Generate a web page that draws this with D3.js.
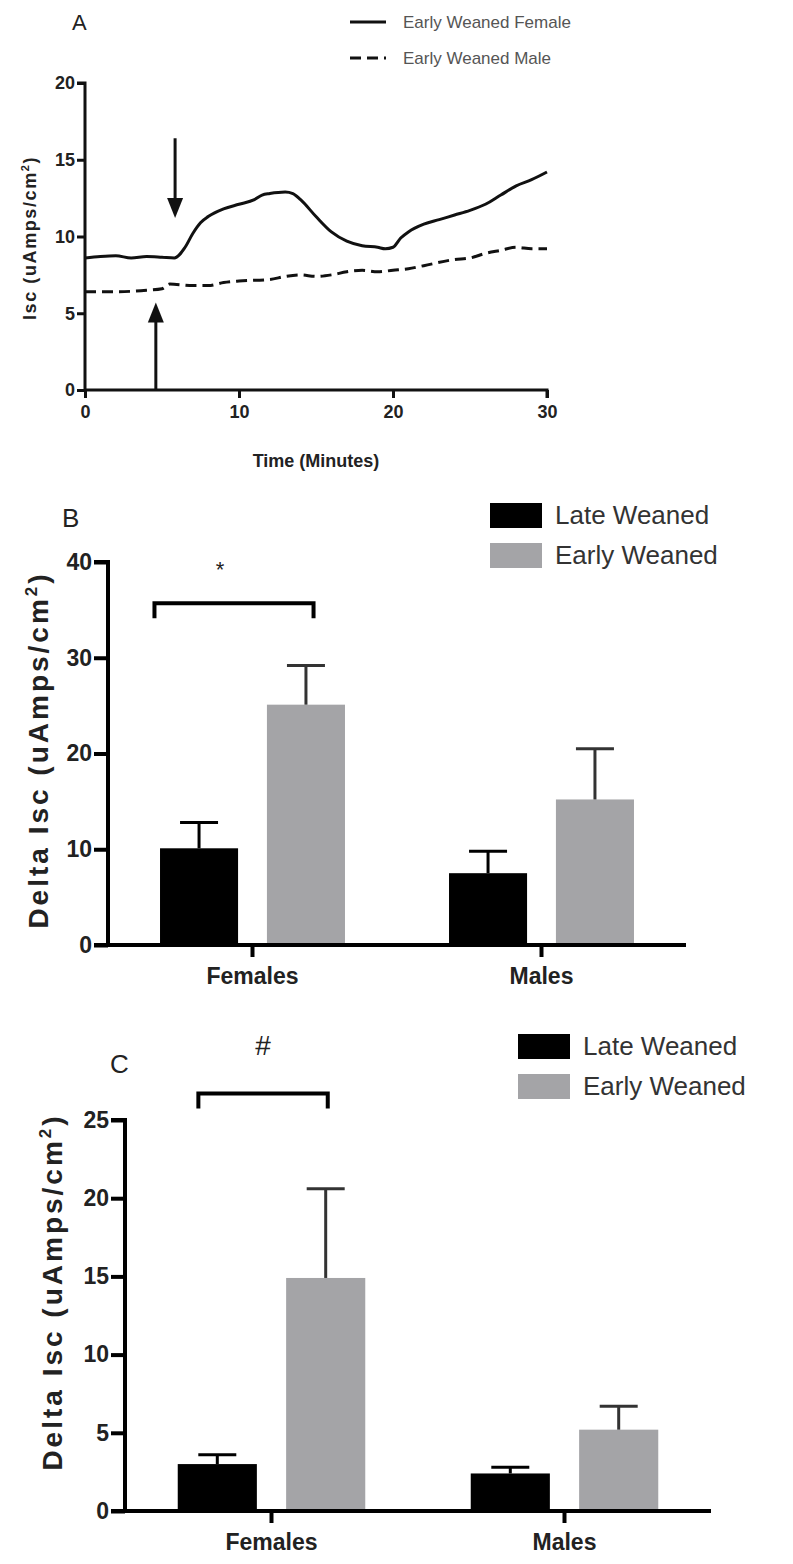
<!DOCTYPE html>
<meta charset="utf-8">
<style>
  body { margin: 0; background: #fff; }
  svg { font-family: "Liberation Sans", Arial, sans-serif; }
</style>
<svg width="793" height="1564"></svg>
<script src="https://cdn.jsdelivr.net/npm/d3@7"></script>
<script>

// ---- data ----
var timeA = [0, 1, 2, 3, 4, 5, 5.8, 6.5, 7, 7.5, 8, 9, 10, 11, 11.5, 12, 13, 13.5, 14, 15, 16, 17, 18, 19, 19.5, 20, 20.5, 21, 22, 23, 24, 25, 26, 27, 28, 29, 30];
var femaleA = [8.6, 8.7, 8.75, 8.6, 8.7, 8.65, 8.6, 9.3, 10.2, 10.9, 11.3, 11.8, 12.1, 12.4, 12.7, 12.8, 12.9, 12.8, 12.4, 11.3, 10.3, 9.7, 9.4, 9.3, 9.2, 9.3, 9.9, 10.3, 10.8, 11.1, 11.4, 11.7, 12.1, 12.7, 13.3, 13.7, 14.2];
var timeMale = [0, 2, 4, 5, 5.5, 7, 8, 9, 10, 12, 13, 14, 15, 16, 17, 18, 19, 20, 21, 22, 24, 25, 26, 27, 28, 29, 30];
var maleA = [6.4, 6.4, 6.5, 6.6, 6.9, 6.8, 6.8, 7.0, 7.1, 7.2, 7.4, 7.5, 7.4, 7.5, 7.7, 7.8, 7.7, 7.8, 7.9, 8.1, 8.5, 8.6, 8.9, 9.1, 9.3, 9.2, 9.2];
var arrowsA = [{t: 5.85, from: 16.4, to: 11.2}, {t: 4.6, from: 0, to: 5.7}];
var ticksAX = [0, 10, 20, 30];
var ticksAY = [0, 5, 10, 15, 20];

var groups = ["Females", "Males"];
var series = ["Late Weaned", "Early Weaned"];
var meanB = [[10.1, 25.1], [7.5, 15.2]];
var semB = [[2.7, 4.1], [2.3, 5.3]];
var ticksB = [0, 10, 20, 30, 40];
var meanC = [[3.0, 14.9], [2.4, 5.2]];
var semC = [[0.6, 5.7], [0.4, 1.5]];
var ticksC = [0, 5, 10, 15, 20, 25];

var colors = ["#000000", "#a4a4a7"];

var svg = d3.select("svg");

function yTitle(g, x, y, size, spacing) {
  var t = g.append("text")
      .attr("transform", "translate(" + x + "," + y + ") rotate(-90)")
      .attr("text-anchor", "middle")
      .attr("font-weight", "bold")
      .attr("font-size", size)
      .attr("letter-spacing", spacing)
      .attr("fill", "#222");
  return t;
}

// ================= Panel A =================
var xA = d3.scaleLinear().domain([0, 30]).range([85, 547]);
var yA = d3.scaleLinear().domain([0, 20]).range([390, 83]);

var axA = svg.append("g").attr("transform", "translate(0,390)")
    .call(d3.axisBottom(xA).tickValues(ticksAX).tickSize(8).tickPadding(6));
var ayA = svg.append("g").attr("transform", "translate(85,0)")
    .call(d3.axisLeft(yA).tickValues(ticksAY).tickSize(8).tickPadding(2));
[axA, ayA].forEach(function(a) {
  a.selectAll("path,line").attr("stroke", "#111").attr("stroke-width", 3);
  a.select(".domain").attr("d", a === axA ? "M85,0H547V8" : "M-8,83H0V390");
  a.selectAll("text").attr("font-size", 18).attr("font-weight", "bold").attr("fill", "#222")
    .attr("font-family", "Liberation Sans, Arial, sans-serif");
});
axA.selectAll("text").attr("dy", "0.8em");

var lineA = d3.line().curve(d3.curveMonotoneX);
svg.append("path")
    .attr("d", lineA(timeA.map(function(t, i) { return [xA(t), yA(femaleA[i])]; })))
    .attr("fill", "none").attr("stroke", "#111").attr("stroke-width", 3);
svg.append("path")
    .attr("d", lineA(timeMale.map(function(t, i) { return [xA(t), yA(maleA[i])]; })))
    .attr("fill", "none").attr("stroke", "#111").attr("stroke-width", 3)
    .attr("stroke-dasharray", "11,6");

arrowsA.forEach(function(a) {
  var x = xA(a.t), y0 = yA(a.from), y1 = yA(a.to);
  var dir = y1 > y0 ? 1 : -1;
  svg.append("line").attr("x1", x).attr("x2", x).attr("y1", y0).attr("y2", y1 - dir * 12)
      .attr("stroke", "#111").attr("stroke-width", 3);
  svg.append("path")
      .attr("d", "M" + (x - 8) + "," + (y1 - dir * 20) + "L" + (x + 8) + "," + (y1 - dir * 20) + "L" + x + "," + y1 + "Z")
      .attr("fill", "#111");
});

svg.append("text").attr("x", 72).attr("y", 30).attr("font-size", 22).attr("fill", "#222").text("A");
var tA = yTitle(svg, 36, 238, 18, 1.6);
tA.append("tspan").text("Isc (uAmps/cm");
tA.append("tspan").attr("font-size", 11).attr("dy", -7).text("2");
tA.append("tspan").attr("dy", 7).text(")");
svg.append("text").attr("x", 316).attr("y", 467).attr("text-anchor", "middle")
    .attr("font-size", 18).attr("font-weight", "bold").attr("fill", "#222").text("Time (Minutes)");

// legend A
[{y: 22, dash: null, label: "Early Weaned Female"}, {y: 58, dash: "11,6", label: "Early Weaned Male"}].forEach(function(d) {
  svg.append("line").attr("x1", 350).attr("x2", 386).attr("y1", d.y).attr("y2", d.y)
      .attr("stroke", "#111").attr("stroke-width", 3).attr("stroke-dasharray", d.dash);
  svg.append("text").attr("x", 403).attr("y", d.y + 6).attr("font-size", 17).attr("fill", "#555").text(d.label);
});

// ================= Bar panels =================
function barPanel(opt) {
  var x0 = d3.scaleBand().domain(groups).range([opt.left, opt.right]).paddingInner(0.36).paddingOuter(0.18);
  var x1 = d3.scaleBand().domain(series).range([0, x0.bandwidth()]).paddingInner(0.27);
  var y = d3.scaleLinear().domain([0, opt.max]).range([opt.bottom, opt.top]);
  var g = svg.append("g");

  groups.forEach(function(grp, gi) {
    series.forEach(function(s, si) {
      var m = opt.mean[gi][si], e = opt.sem[gi][si];
      var bx = x0(grp) + x1(s), cx = bx + x1.bandwidth() / 2;
      g.append("rect").attr("x", bx).attr("width", x1.bandwidth())
          .attr("y", y(m)).attr("height", y(0) - y(m)).attr("fill", colors[si]);
      g.append("line").attr("x1", cx).attr("x2", cx).attr("y1", y(m)).attr("y2", y(m + e))
          .attr("stroke", si ? "#333" : "#000").attr("stroke-width", 3);
      g.append("line").attr("x1", cx - 19).attr("x2", cx + 19).attr("y1", y(m + e)).attr("y2", y(m + e))
          .attr("stroke", si ? "#333" : "#000").attr("stroke-width", 3);
    });
  });

  var ax = g.append("g").attr("transform", "translate(0," + y(0) + ")")
      .call(d3.axisBottom(x0).tickSize(12).tickPadding(10).tickSizeOuter(0));
  var ay = g.append("g").attr("transform", "translate(" + opt.left + ",0)")
      .call(d3.axisLeft(y).tickValues(opt.ticks).tickSize(14).tickPadding(2).tickFormat(d3.format("d")));
  [ax, ay].forEach(function(a) {
    a.selectAll("path,line").attr("stroke", "#000").attr("stroke-width", 4);
    a.selectAll("text").attr("font-size", 23).attr("font-weight", "bold").attr("fill", "#222")
      .attr("font-family", "Liberation Sans, Arial, sans-serif");
  });
  ax.select(".domain").attr("d", "M" + (opt.left - 14) + ",0H" + opt.right);
  ay.select(".domain").attr("d", "M-14," + opt.top + "H0V" + opt.bottom);
  ax.selectAll("text").attr("dy", "0.75em");

  // significance bracket
  var bl = x0("Females") + opt.bracket[0] * x0.bandwidth();
  var br = x0("Females") + opt.bracket[1] * x0.bandwidth();
  var by = y(opt.bracketY), bl2 = y(opt.bracketY) + 15;
  g.append("path").attr("d", "M" + bl + "," + bl2 + "V" + by + "H" + br + "V" + bl2)
      .attr("fill", "none").attr("stroke", "#000").attr("stroke-width", 4);
  g.append("text").attr("x", (bl + br) / 2 + opt.markDx).attr("y", opt.markY)
      .attr("text-anchor", "middle").attr("font-size", opt.markSize).attr("fill", "#222").text(opt.mark);

  // panel letter
  g.append("text").attr("x", opt.letter[0]).attr("y", opt.letter[1]).attr("font-size", 26).attr("fill", "#222").text(opt.name);

  // y title
  var t = yTitle(g, opt.titleX, opt.titleY, 28, 3);
  t.append("tspan").text("Delta Isc (uAmps/cm");
  t.append("tspan").attr("font-size", 17).attr("dy", -11).text("2");
  t.append("tspan").attr("dy", 11).text(")");

  // legend
  series.forEach(function(s, i) {
    var ly = opt.legend[1] + i * 40;
    g.append("rect").attr("x", opt.legend[0]).attr("y", ly).attr("width", 52).attr("height", 25).attr("fill", colors[i]);
    g.append("text").attr("x", opt.legend[0] + 65).attr("y", ly + 21).attr("font-size", 26).attr("fill", "#333").text(s);
  });
}

barPanel({
  name: "B", letter: [62, 527], left: 108, right: 686, top: 562, bottom: 945, max: 40,
  mean: meanB, sem: semB, ticks: ticksB, titleX: 48, titleY: 750,
  bracket: [-0.03, 0.83], bracketY: 35.7, mark: "*", markY: 577, markSize: 22, markDx: -14,
  legend: [490, 503]
});

barPanel({
  name: "C", letter: [110, 1073], left: 125, right: 711, top: 1120, bottom: 1511, max: 25,
  mean: meanC, sem: semC, ticks: ticksC, titleX: 62, titleY: 1292,
  bracket: [0.11, 0.80], bracketY: 26.7, mark: "#", markY: 1055, markSize: 28, markDx: 0,
  legend: [518, 1034]
});

</script>
